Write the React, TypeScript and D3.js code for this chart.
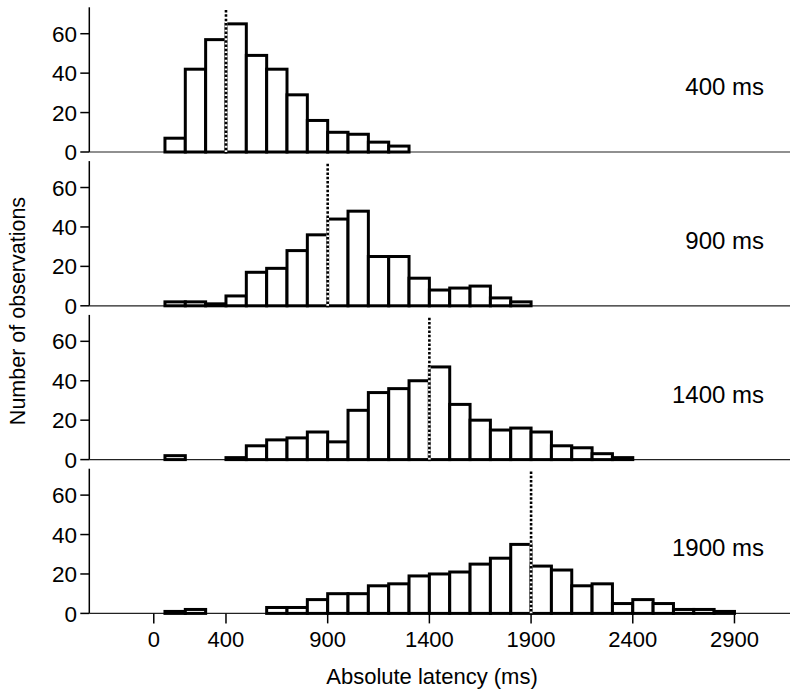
import React from "react";
import * as d3 from "d3";

const panelLabels = ["400 ms", "900 ms", "1400 ms", "1900 ms"];
const soaValues = [400, 900, 1400, 1900];
const binWidth = 100;
const firstBin = 100;
const counts400 = [7, 42, 57, 65, 49, 42, 29, 16, 10, 9, 5, 3];
const counts900 = [2, 2, 1, 5, 17, 19, 28, 36, 44, 48, 25, 25, 14, 8, 9, 10, 4, 2];
const counts1400 = [2, 0, 0, 1, 7, 10, 11, 14, 9, 25, 34, 36, 40, 47, 28, 20, 15, 16, 14, 7, 6, 3, 1];
const counts1900 = [1, 2, 0, 0, 0, 3, 3, 7, 10, 10, 14, 15, 19, 20, 21, 25, 28, 35, 24, 22, 14, 15, 5, 7, 5, 2, 2, 1];
const panelCounts = [counts400, counts900, counts1400, counts1900];
const yTicks = [0, 20, 40, 60];
const xTickValues = [45, 400, 900, 1400, 1900, 2400, 2900];
const xTickLabels = ["0", "400", "900", "1400", "1900", "2400", "2900"];

const FONT = "'Liberation Sans', Arial, Helvetica, sans-serif";

export default function App() {
  const W = 797;
  const H = 697;
  const axisX = 89.3;
  const rightX = 790;
  const x = d3.scaleLinear().domain([-272, 3173]).range([axisX, rightX]);
  const baselines = [152, 305.8, 459.6, 613.4];
  const panelH = 144.7;
  const yMax = 73.4;

  return (
    <svg
      width={W}
      height={H}
      style={{ position: "absolute", left: 0, top: 0, background: "#fff" }}
      fontFamily={FONT}
    >
      <rect x={0} y={0} width={W} height={H} fill="#fff" />
      {panelCounts.map((counts, pi) => {
        const b = baselines[pi];
        const y = d3.scaleLinear().domain([0, yMax]).range([b, b - panelH]);
        const bins = counts.map((c, i) => ({ x0: firstBin + i * binWidth, c }));
        return (
          <g key={pi}>
            <line x1={axisX} x2={axisX} y1={y(yMax)} y2={b} stroke="#000" strokeWidth={1.5} />
            {yTicks.map((t) => (
              <g key={t}>
                <line x1={axisX - 9} x2={axisX} y1={y(t)} y2={y(t)} stroke="#000" strokeWidth={1.5} />
                <text x={77} y={y(t)} dy="0.36em" textAnchor="end" fontSize={22.5} fill="#000">
                  {t}
                </text>
              </g>
            ))}
            <line x1={axisX} x2={rightX} y1={b} y2={b} stroke="#222" strokeWidth={1.2} />
            {bins
              .filter((d) => d.c > 0)
              .map((d) => (
                <rect
                  key={d.x0}
                  x={x(d.x0)}
                  width={x(d.x0 + binWidth) - x(d.x0)}
                  y={y(d.c)}
                  height={b - y(d.c)}
                  fill="#fff"
                  stroke="#000"
                  strokeWidth={3}
                />
              ))}
            <line x1={x(soaValues[pi])} x2={x(soaValues[pi])} y1={y(72)} y2={b} stroke="#fff" strokeWidth={2.6} />
            <line
              x1={x(soaValues[pi])}
              x2={x(soaValues[pi])}
              y1={y(72)}
              y2={b}
              stroke="#000"
              strokeWidth={2.6}
              strokeDasharray="2.5,1.8"
            />
            <text x={764} y={b - 57} textAnchor="end" fontSize={24} fill="#000">
              {panelLabels[pi]}
            </text>
          </g>
        );
      })}
      {xTickValues.map((v, i) => (
        <g key={v}>
          <line x1={x(v)} x2={x(v)} y1={baselines[3]} y2={baselines[3] + 10} stroke="#000" strokeWidth={1.5} />
          <text x={x(v)} y={647} textAnchor="middle" fontSize={22} fill="#000">
            {xTickLabels[i]}
          </text>
        </g>
      ))}
      <text x={432} y={684} textAnchor="middle" fontSize={22} fill="#000">
        Absolute latency (ms)
      </text>
      <text
        transform={`translate(25, 311) rotate(-90)`}
        textAnchor="middle"
        fontSize={21.5}
        fill="#000"
      >
        Number of observations
      </text>
    </svg>
  );
}
